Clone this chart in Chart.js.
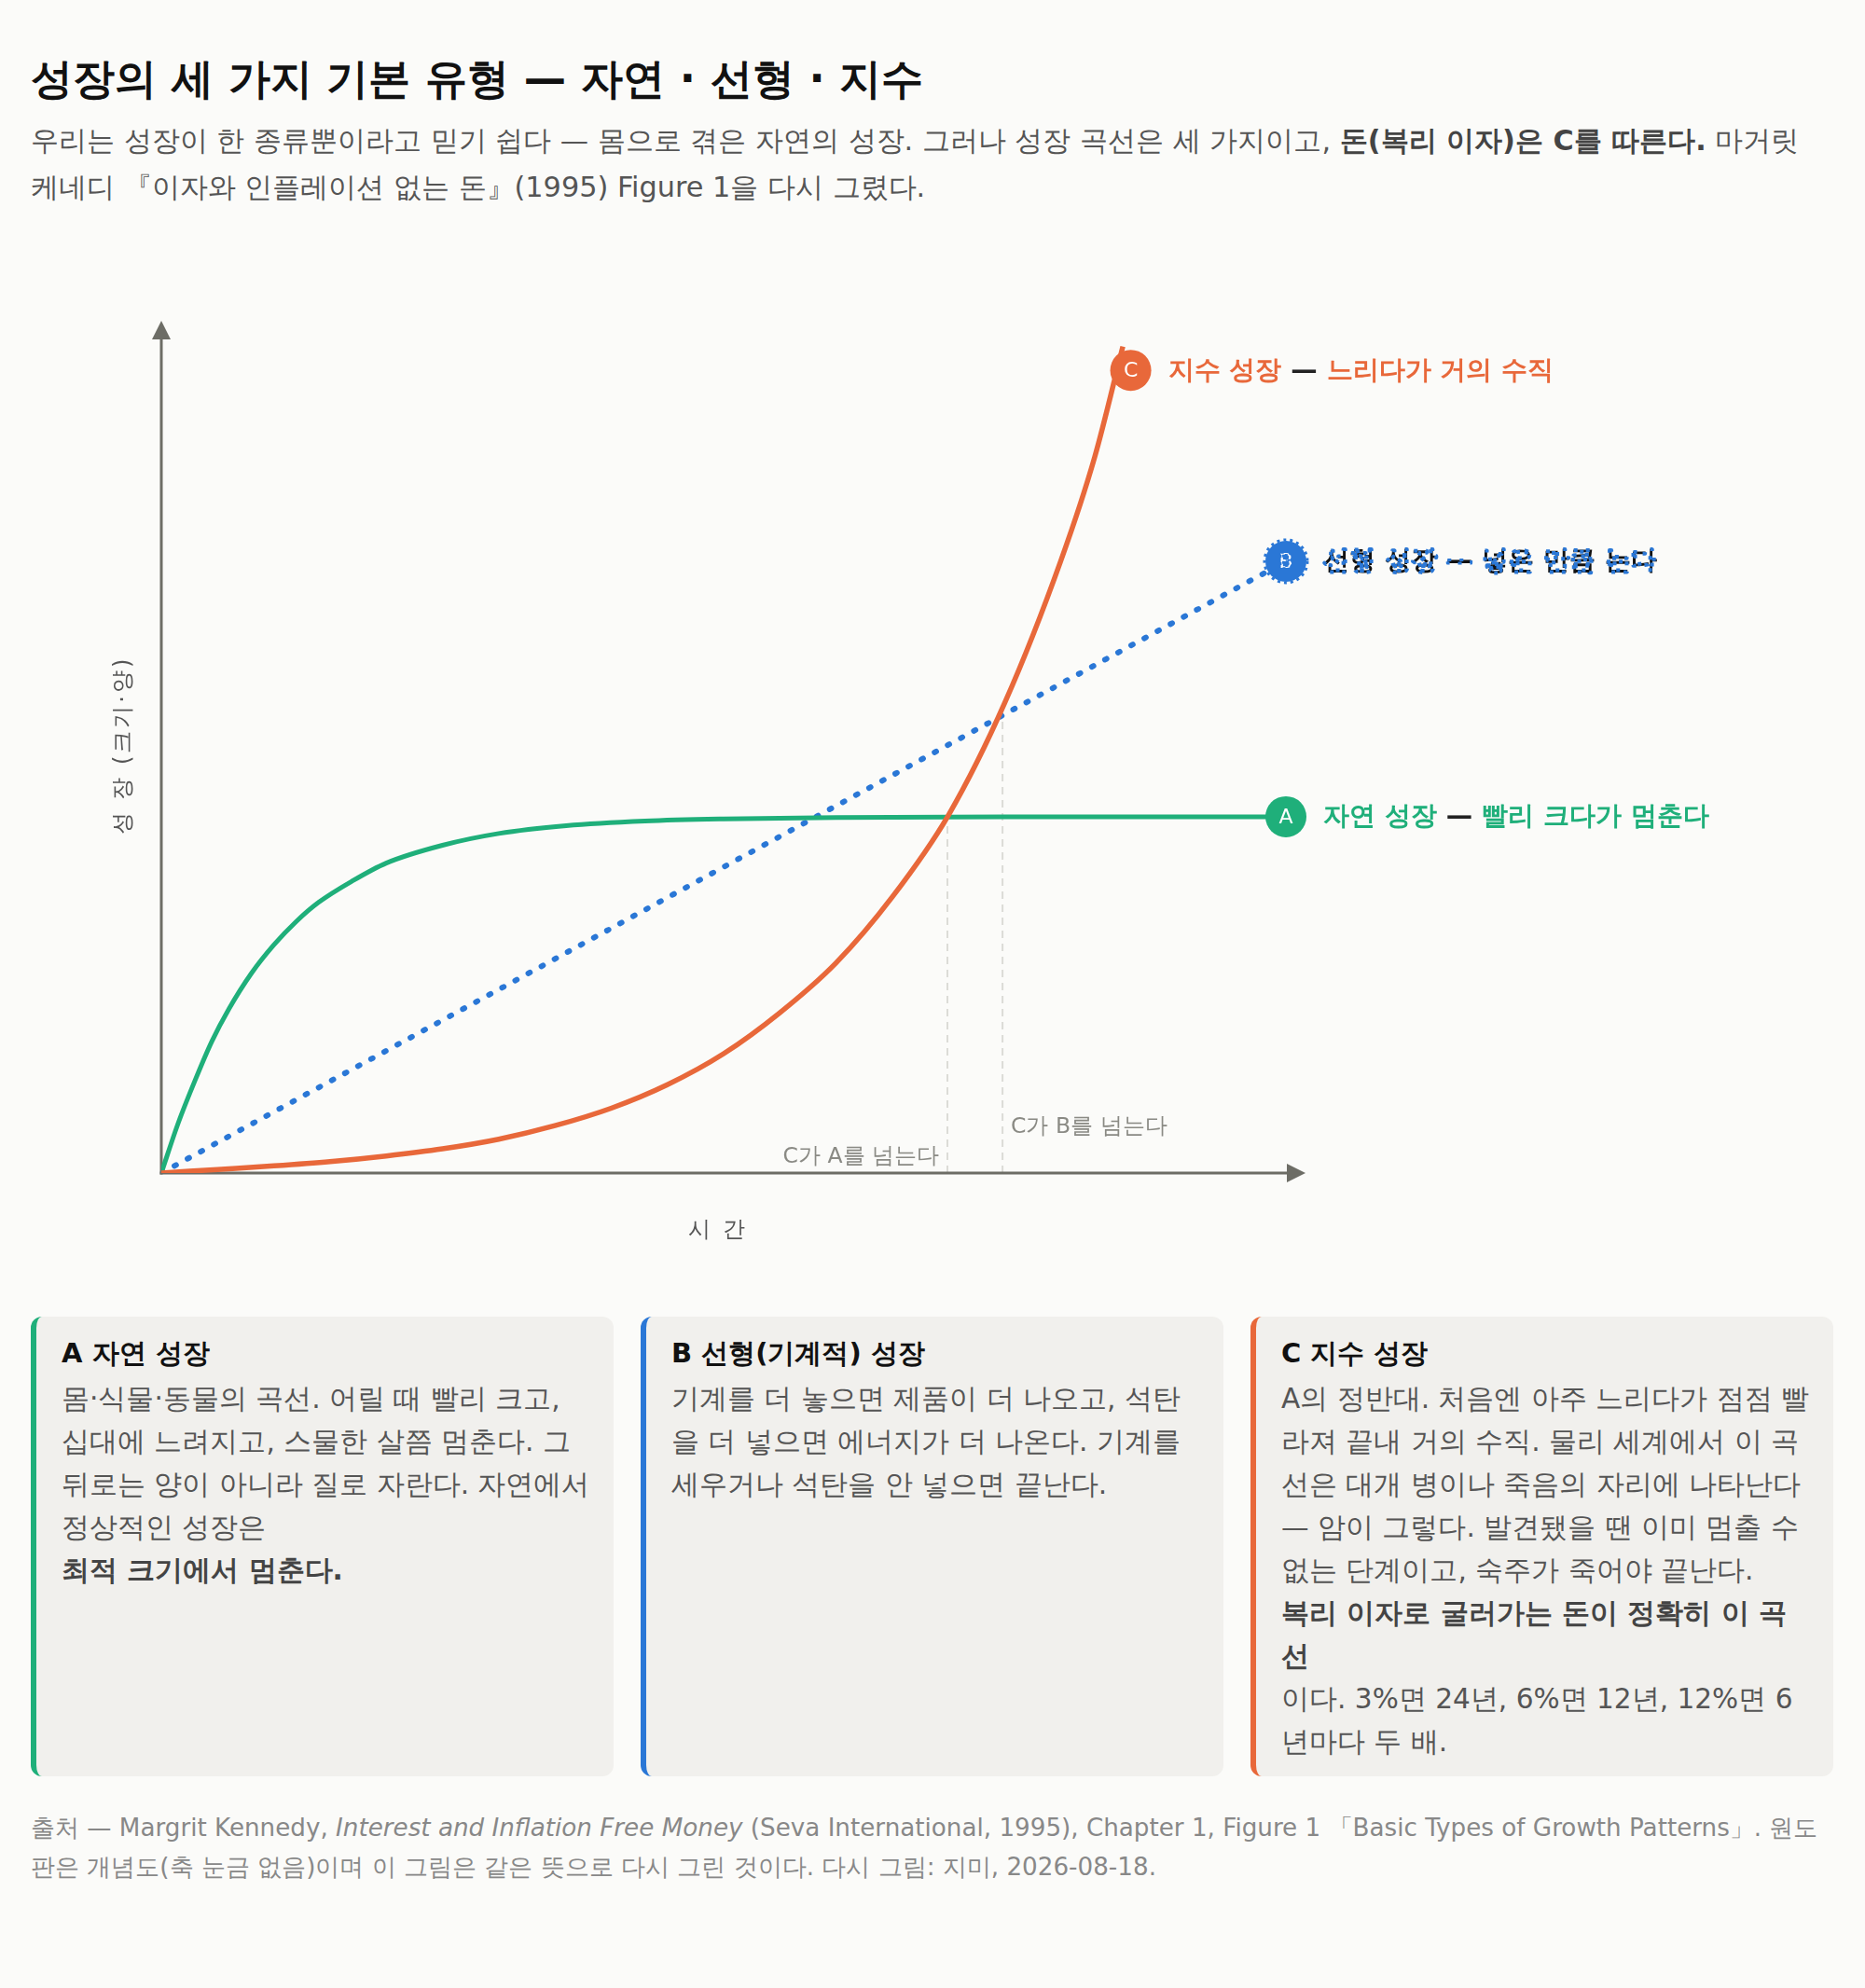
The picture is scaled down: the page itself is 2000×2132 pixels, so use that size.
<!DOCTYPE html>
<html lang="ko">
<head>
<meta charset="utf-8">
<script src="https://cdn.jsdelivr.net/npm/chart.js@4.4.1/dist/chart.umd.min.js"></script>
<style>
  html, body { margin:0; padding:0; background:#fbfbf9; }
  body { width:2000px; height:2132px; position:relative; font-family:"DejaVu Sans",sans-serif; }
  #title { position:absolute; left:33px; top:55px; font-size:45.3px; line-height:60px; font-weight:bold; color:#111; white-space:nowrap; }
  #sub { position:absolute; left:33px; top:126px; width:1934px; font-size:30.3px; line-height:49.5px; color:#555; white-space:nowrap; }
  #sub b { color:#444; }
  #chartWrap { position:absolute; left:0; top:250px; width:2000px; height:1110px; }
  #cards { position:absolute; left:33px; top:1412px; width:1933px; height:493px; display:flex; gap:29px; }
  .card { flex:1; background:#f1f0ed; border-radius:12px; padding:20px 20px 15px 27px; box-sizing:border-box; border-left:6px solid #999; overflow:hidden; }
  .card h3 { margin:0 0 7px 0; font-size:29px; line-height:38px; color:#111; font-weight:bold; }
  .card p { margin:0; font-size:29.6px; line-height:46px; color:#555; white-space:nowrap; }
  .card p b { display:block; color:#444; }
  #foot { position:absolute; left:33px; top:1939px; width:1934px; font-size:26.2px; line-height:42px; color:#888; white-space:nowrap; }
</style>
</head>
<body>
<div id="title">성장의 세 가지 기본 유형 — 자연 · 선형 · 지수</div>
<div id="sub">우리는 성장이 한 종류뿐이라고 믿기 쉽다 — 몸으로 겪은 자연의 성장. 그러나 성장 곡선은 세 가지이고, <b>돈(복리 이자)은 C를 따른다.</b> 마거릿<br>케네디 『이자와 인플레이션 없는 돈』(1995) Figure 1을 다시 그렸다.</div>
<div id="chartWrap"><canvas id="c" width="2000" height="1110"></canvas></div>
<div id="cards">
  <div class="card" style="border-left-color:#1faf7a">
    <h3>A 자연 성장</h3>
    <p>몸·식물·동물의 곡선. 어릴 때 빨리 크고,<br>십대에 느려지고, 스물한 살쯤 멈춘다. 그<br>뒤로는 양이 아니라 질로 자란다. 자연에서<br>정상적인 성장은 <b>최적 크기에서 멈춘다.</b></p>
  </div>
  <div class="card" style="border-left-color:#2a77d6">
    <h3>B 선형(기계적) 성장</h3>
    <p>기계를 더 놓으면 제품이 더 나오고, 석탄<br>을 더 넣으면 에너지가 더 나온다. 기계를<br>세우거나 석탄을 안 넣으면 끝난다.</p>
  </div>
  <div class="card" style="border-left-color:#e8683a">
    <h3>C 지수 성장</h3>
    <p>A의 정반대. 처음엔 아주 느리다가 점점 빨<br>라져 끝내 거의 수직. 물리 세계에서 이 곡<br>선은 대개 병이나 죽음의 자리에 나타난다<br>— 암이 그렇다. 발견됐을 땐 이미 멈출 수<br>없는 단계이고, 숙주가 죽어야 끝난다. <b>복리 이자로 굴러가는 돈이 정확히 이 곡<br>선</b>이다. 3%면 24년, 6%면 12년, 12%면 6<br>년마다 두 배.</p>
  </div>
</div>
<div id="foot">출처 — Margrit Kennedy, <i>Interest and Inflation Free Money</i> (Seva International, 1995), Chapter 1, Figure 1 「Basic Types of Growth Patterns」. 원도<br>판은 개념도(축 눈금 없음)이며 이 그림은 같은 뜻으로 다시 그린 것이다. 다시 그림: 지미, 2026-08-18.</div>

<script>
// ---- data (conceptual units: time 0-100, size 0-240) ----
const timeA   = [0, 1.5, 3, 4.5, 6, 8, 10, 12, 14, 17, 20, 25, 30, 36, 43, 50, 60, 75, 100];
const growthA = [0, 14, 26, 37, 46, 56, 64, 70.6, 76, 82, 87, 92, 95.3, 97.5, 98.8, 99.4, 99.8, 100, 100];
const timeB   = [0, 25, 50, 75, 100];
const growthB = [0, 42.9, 85.9, 128.8, 171.7];
const timeC   = [0, 5, 10, 15, 20, 25, 30, 35, 40, 45, 50, 55, 60, 65, 70, 75, 80, 83, 85.5];
const growthC = [0, 1.0, 2.0, 3.2, 4.8, 6.8, 9.5, 13.3, 18.2, 24.8, 33.5, 45, 59, 77.5, 100.5, 132, 172, 201, 232];

const seriesKeys   = ['A', 'B', 'C'];
const seriesLabels = ['자연 성장', '선형 성장', '지수 성장'];
const seriesNotes  = ['빨리 크다가 멈춘다', '넣은 만큼 는다', '느리다가 거의 수직'];
const badgeX = [100, 100, 86.2];
const badgeY = [100, 171.7, 225.3];

const crossX    = [69.9, 74.8];
const crossY    = [100, 130.8];
const crossText = ['C가 A를 넘는다', 'C가 B를 넘는다'];

const xTitle = '시 간';
const yTitle = '성 장 (크기·양)';

const GREEN = '#1faf7a', BLUE = '#2a77d6', ORANGE = '#e8683a', AXIS = '#6d6d66';
const colors = [GREEN, BLUE, ORANGE];
const FONT = '"DejaVu Sans",sans-serif';
const BG = '#fbfbf9';

const pts = (xs, ys) => xs.map((x, i) => ({x, y: ys[i]}));

const decor = {
  id: 'decor',
  beforeDatasetsDraw(chart) {
    const {ctx, chartArea: a, scales: {x, y}} = chart;
    ctx.save();
    // crossing guide lines
    ctx.strokeStyle = '#dcdcd7'; ctx.lineWidth = 2; ctx.setLineDash([8, 6]);
    crossX.forEach((cx, i) => {
      const px = x.getPixelForValue(cx);
      ctx.beginPath(); ctx.moveTo(px, y.getPixelForValue(0)); ctx.lineTo(px, y.getPixelForValue(crossY[i])); ctx.stroke();
    });
    ctx.setLineDash([]);
    // axes with arrows
    const ox = x.getPixelForValue(0), oy = y.getPixelForValue(0);
    const topTip = a.top + 3, rightTip = a.right + 21;
    ctx.strokeStyle = AXIS; ctx.fillStyle = AXIS; ctx.lineWidth = 3;
    ctx.beginPath(); ctx.moveTo(ox, oy + 1.5); ctx.lineTo(ox, topTip + 16); ctx.stroke();
    ctx.beginPath(); ctx.moveTo(ox - 1.5, oy); ctx.lineTo(rightTip - 16, oy); ctx.stroke();
    ctx.beginPath(); ctx.moveTo(ox, topTip); ctx.lineTo(ox - 10, topTip + 20); ctx.lineTo(ox + 10, topTip + 20); ctx.closePath(); ctx.fill();
    ctx.beginPath(); ctx.moveTo(rightTip, oy); ctx.lineTo(rightTip - 20, oy - 10); ctx.lineTo(rightTip - 20, oy + 10); ctx.closePath(); ctx.fill();
    // axis titles
    ctx.fillStyle = '#555'; ctx.font = '24px ' + FONT; ctx.textAlign = 'center'; ctx.textBaseline = 'middle';
    ctx.letterSpacing = '3px';
    ctx.fillText(xTitle, x.getPixelForValue(49.5), oy + 62);
    ctx.save();
    ctx.translate(ox - 40, (a.top + a.bottom) / 2);
    ctx.rotate(-Math.PI / 2);
    ctx.fillText(yTitle, 0, 0);
    ctx.restore();
    ctx.letterSpacing = '0px';
    // crossing labels
    ctx.fillStyle = '#8a8a84'; ctx.font = '23.5px ' + FONT; ctx.textBaseline = 'alphabetic';
    ctx.textAlign = 'right';
    ctx.fillText(crossText[0], x.getPixelForValue(crossX[0]) - 9, oy - 11);
    ctx.textAlign = 'left';
    ctx.fillText(crossText[1], x.getPixelForValue(crossX[1]) + 9, oy - 43);
    ctx.restore();
  },
  afterDatasetsDraw(chart) {
    const {ctx, scales: {x, y}} = chart;
    ctx.save();
    seriesKeys.forEach((k, i) => {
      const cx = x.getPixelForValue(badgeX[i]), cy = y.getPixelForValue(badgeY[i]);
      const col = colors[i];
      ctx.setLineDash([]);
      ctx.fillStyle = col;
      ctx.beginPath(); ctx.arc(cx, cy, 22, 0, Math.PI * 2); ctx.fill();
      ctx.font = '22px ' + FONT; ctx.textAlign = 'center'; ctx.textBaseline = 'middle';
      ctx.fillStyle = '#fff';
      ctx.fillText(k, cx, cy + 1);
      const tx = cx + 40;
      const LF = 'bold 28.4px ' + FONT;
      ctx.font = LF; ctx.textAlign = 'left';
      const p1 = seriesLabels[i] + ' ', p2 = '—', p3 = ' ' + seriesNotes[i];
      if (k === 'B') {
        // dotted rim on badge and dotted-stroked label
        ctx.strokeStyle = col; ctx.lineWidth = 3; ctx.setLineDash([3, 4]);
        ctx.beginPath(); ctx.arc(cx, cy, 23, 0, Math.PI * 2); ctx.stroke();
        ctx.lineWidth = 1.5; ctx.setLineDash([3, 5]);
        ctx.font = '22px ' + FONT; ctx.textAlign = 'center';
        ctx.strokeText(k, cx, cy + 1);
        ctx.font = LF; ctx.textAlign = 'left';
        const full = p1 + p2 + p3;
        ctx.setLineDash([]);
        ctx.fillStyle = '#111';
        ctx.fillText(full, tx, cy + 1);
        ctx.strokeStyle = col; ctx.lineWidth = 3; ctx.setLineDash([4, 9]);
        ctx.strokeText(full, tx, cy + 1);
        ctx.setLineDash([]);
      } else {
        let px = tx;
        [[p1, col], [p2, '#222'], [p3, col]].forEach(([s, c]) => {
          ctx.strokeStyle = BG; ctx.lineWidth = 4; ctx.lineJoin = 'round';
          ctx.strokeText(s, px, cy + 1);
          ctx.fillStyle = c;
          ctx.fillText(s, px, cy + 1);
          px += ctx.measureText(s).width;
        });
      }
    });
    ctx.restore();
  }
};

new Chart(document.getElementById('c'), {
  type: 'line',
  data: {
    datasets: [
      { label: 'A', data: pts(timeA, growthA), borderColor: GREEN, borderWidth: 5, pointRadius: 0, cubicInterpolationMode: 'monotone', fill: false, order: 1 },
      { label: 'B', data: pts(timeB, growthB), borderColor: BLUE, borderWidth: 6, borderDash: [2, 14], borderCapStyle: 'round', pointRadius: 0, fill: false, order: 2 },
      { label: 'C', data: pts(timeC, growthC), borderColor: ORANGE, borderWidth: 5.5, pointRadius: 0, cubicInterpolationMode: 'monotone', fill: false, order: 0 }
    ]
  },
  options: {
    responsive: false,
    animation: false,
    devicePixelRatio: 1,
    layout: { padding: { left: 173, right: 621, top: 91, bottom: 102 } },
    scales: {
      x: { type: 'linear', min: 0, max: 100, display: false },
      y: { type: 'linear', min: 0, max: 240, display: false }
    },
    plugins: { legend: { display: false }, tooltip: { enabled: false } }
  },
  plugins: [decor]
});
</script>
</body>
</html>
